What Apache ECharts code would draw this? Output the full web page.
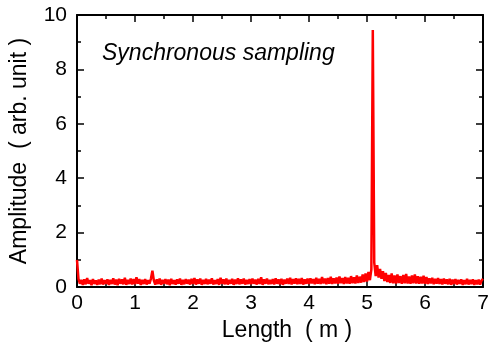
<!DOCTYPE html>
<html>
<head>
<meta charset="utf-8">
<script src="https://cdn.jsdelivr.net/npm/echarts@6/dist/echarts.min.js"></script>
<style>html,body{margin:0;padding:0;background:#fff}#c{width:489px;height:349px}</style>
</head>
<body>
<div id="c"></div>
<script>
// Sample spacing of the measured trace (m)
const lengthStep = 0.025;
// Amplitude readings (arb. unit), one per sample starting at 0 m
const amp0 = [1.00,0.30,0.12,0.26,0.08,0.28,0.10,0.33,0.12,0.25,0.07,0.29,0.11,0.24,0.08,0.27,0.10,0.31,0.09,0.25,0.12,0.28,0.08,0.26,0.11,0.32,0.09,0.27,0.07,0.30,0.12,0.28,0.10,0.34,0.08,0.26,0.11,0.31,0.09,0.29];
const amp1 = [0.10,0.36,0.12,0.29,0.08,0.26,0.11,0.29,0.09,0.25,0.12,0.31,0.60,0.24,0.09,0.28,0.11,0.31,0.08,0.26,0.12,0.29,0.10,0.27,0.07,0.30,0.11,0.25,0.09,0.28,0.12,0.31,0.08,0.26,0.10,0.29,0.12,0.27,0.09,0.30];
const amp2 = [0.11,0.33,0.09,0.28,0.12,0.31,0.08,0.26,0.11,0.30,0.10,0.27,0.12,0.32,0.09,0.25,0.11,0.29,0.08,0.34,0.12,0.28,0.10,0.31,0.09,0.26,0.12,0.30,0.08,0.27,0.11,0.32,0.10,0.28,0.12,0.31,0.09,0.26,0.11,0.29];
const amp3 = [0.10,0.31,0.12,0.27,0.09,0.30,0.11,0.36,0.08,0.28,0.12,0.31,0.10,0.26,0.11,0.29,0.09,0.32,0.12,0.28,0.10,0.30,0.08,0.27,0.12,0.31,0.11,0.34,0.09,0.29,0.12,0.32,0.10,0.30,0.11,0.33,0.09,0.28,0.12,0.31];
const amp4 = [0.11,0.32,0.13,0.29,0.10,0.34,0.12,0.30,0.11,0.37,0.13,0.31,0.10,0.33,0.12,0.38,0.11,0.32,0.13,0.35,0.12,0.39,0.14,0.33,0.11,0.37,0.13,0.34,0.12,0.40,0.14,0.36,0.13,0.42,0.15,0.38,0.16,0.46,0.18,0.50];
const amp5 = [0.20,0.55,0.25,0.65,9.45,0.90,0.40,0.80,0.35,0.66,0.30,0.58,0.22,0.52,0.18,0.44,0.15,0.50,0.14,0.42,0.13,0.46,0.15,0.40,0.12,0.44,0.14,0.48,0.13,0.39,0.12,0.42,0.14,0.46,0.13,0.40,0.12,0.38,0.13,0.41];
const amp6 = [0.12,0.37,0.11,0.32,0.13,0.34,0.10,0.30,0.12,0.33,0.11,0.29,0.09,0.31,0.12,0.28,0.10,0.30,0.08,0.27,0.11,0.29,0.09,0.26,0.12,0.28,0.08,0.25,0.10,0.30,0.09,0.26,0.11,0.28,0.08,0.25,0.10,0.27,0.09,0.24];
const amp7 = [0.30];

const xTicks = [0,1,2,3,4,5,6,7];
const yTicks = [0,2,4,6,8,10];
const annotation = 'Synchronous sampling';
const xTitle = 'Length  ( m )';
const yTitle = 'Amplitude  ( arb. unit )';

const amps = [].concat(amp0, amp1, amp2, amp3, amp4, amp5, amp6, amp7);
const data = amps.map((v, i) => [+(i * lengthStep).toFixed(3), v]);

const font = 'Liberation Sans, Arial, sans-serif';
function axisBase(show, margin) {
  return {
    axisLine: { show: true, onZero: false, lineStyle: { color: '#000', width: 2 } },
    axisTick: { show: true, inside: true, length: 7, lineStyle: { color: '#000', width: 1.5 } },
    minorTick: { show: true, splitNumber: 2, length: 4, lineStyle: { color: '#000', width: 1.5 } },
    splitLine: { show: false },
    axisLabel: { show: show, color: '#000', fontFamily: font, fontSize: 21, margin: margin }
  };
}
const chart = echarts.init(document.getElementById('c'), null, { renderer: 'canvas' });
chart.setOption({
  animation: false,
  backgroundColor: '#fff',
  grid: { left: 77, right: 6, top: 15, bottom: 62, containLabel: false, outerBoundsMode: 'none' },
  xAxis: [
    Object.assign(axisBase(true, 6), {
      type: 'value', position: 'bottom', min: xTicks[0], max: xTicks[xTicks.length - 1], interval: 1,
      name: xTitle, nameLocation: 'middle', nameGap: 29,
      nameTextStyle: { color: '#000', fontFamily: font, fontSize: 23, padding: [0, 0, 0, 14] }
    }),
    Object.assign(axisBase(false, 6), {
      type: 'value', position: 'top', min: xTicks[0], max: xTicks[xTicks.length - 1], interval: 1
    })
  ],
  yAxis: [
    Object.assign(axisBase(true, 10), {
      type: 'value', position: 'left', min: yTicks[0], max: yTicks[yTicks.length - 1], interval: 2,
      name: yTitle, nameLocation: 'middle', nameGap: 46,
      nameTextStyle: { color: '#000', fontFamily: font, fontSize: 23 }
    }),
    Object.assign(axisBase(false, 10), {
      type: 'value', position: 'right', min: yTicks[0], max: yTicks[yTicks.length - 1], interval: 2
    })
  ],
  graphic: [{
    type: 'text', left: 102, top: 42,
    style: { text: annotation, fill: '#000', font: 'italic 23px ' + font }
  }],
  series: [{
    type: 'line', xAxisIndex: 0, yAxisIndex: 0, data: data,
    showSymbol: false, clip: true,
    lineStyle: { color: '#ff0000', width: 2.5 }
  }]
});
</script>
</body>
</html>
